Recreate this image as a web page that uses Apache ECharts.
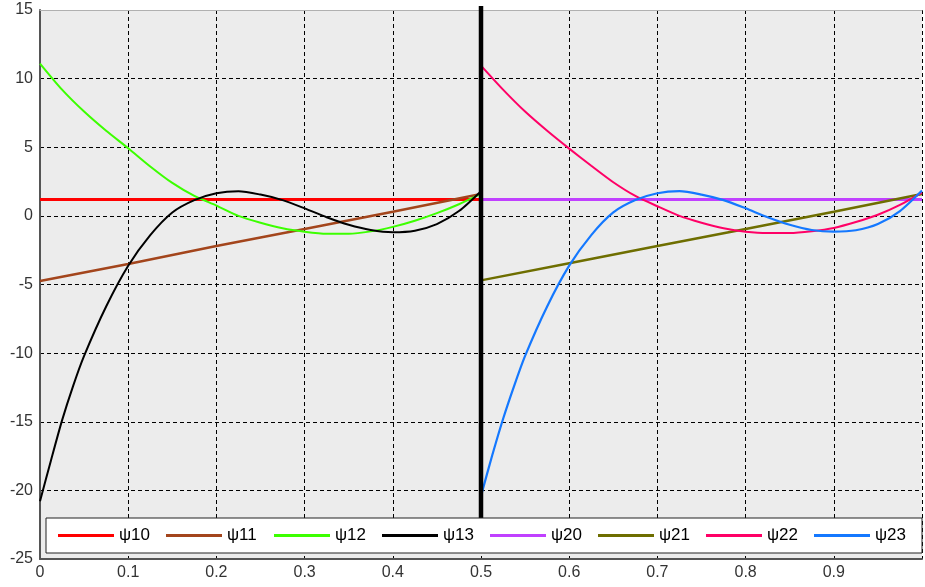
<!DOCTYPE html>
<html>
<head>
<meta charset="utf-8">
<script src="https://cdn.jsdelivr.net/npm/echarts@6/dist/echarts.min.js"></script>
<style>
html,body{margin:0;padding:0;background:#fff;}
#chart{width:925px;height:587px;}
</style>
</head>
<body>
<div id="chart"></div>
<script>
// ---- data ----
const seriesNames = ['ψ10','ψ11','ψ12','ψ13','ψ20','ψ21','ψ22','ψ23'];
const seriesColors = ['#ff0000','#a3451c','#3cff00','#000000','#c040ff','#6e6e00','#ff0066','#1478ff'];

const xTickLabels = ['0','0.1','0.2','0.3','0.4','0.5','0.6','0.7','0.8','0.9'];
const yTickLabels = ['-25','-20','-15','-10','-5','0','5','10','15'];

const psi10X = [0, 0.5];
const psi10Y = [1.2, 1.2];

const psi11X = [0, 0.1, 0.2, 0.3, 0.4, 0.5];
const psi11Y = [-4.75, -3.5, -2.2, -0.95, 0.3, 1.6];

const psi12X = [0,0.025,0.05,0.075,0.1,0.125,0.15,0.175,0.2,0.225,0.25,0.275,0.3,0.325,0.35,0.375,0.4,0.425,0.45,0.475,0.5];
const psi12Y = [11.1,9.2,7.6,6.2,4.93,3.6,2.4,1.45,0.75,0.0,-0.5,-0.9,-1.15,-1.3,-1.3,-1.13,-0.8,-0.35,0.2,0.85,1.6];

const psi13X = [0,0.0125,0.025,0.0375,0.05,0.075,0.1,0.125,0.15,0.175,0.2,0.225,0.25,0.275,0.3,0.325,0.35,0.375,0.4,0.425,0.45,0.475,0.5];
const psi13Y = [-20.8,-17.8,-14.9,-12.4,-10.2,-6.6,-3.63,-1.4,0.25,1.15,1.65,1.8,1.55,1.15,0.55,-0.1,-0.65,-1.03,-1.19,-1.08,-0.6,0.35,1.8];

const psi20X = [0.5, 1.0];
const psi20Y = [1.2, 1.2];

const psi21X = [0.5, 0.6, 0.7, 0.8, 0.9, 1.0];
const psi21Y = [-4.7, -3.45, -2.2, -0.95, 0.3, 1.6];

const psi22X = [0.5,0.525,0.55,0.575,0.6,0.625,0.65,0.675,0.7,0.725,0.75,0.775,0.8,0.825,0.85,0.875,0.9,0.925,0.95,0.975,1.0];
const psi22Y = [10.95,9.2,7.6,6.2,4.9,3.65,2.45,1.45,0.7,0.0,-0.5,-0.9,-1.15,-1.25,-1.25,-1.12,-0.88,-0.45,0.08,0.8,1.7];

const psi23X = [0.5,0.5125,0.525,0.5375,0.55,0.575,0.6,0.625,0.65,0.675,0.7,0.725,0.75,0.775,0.8,0.825,0.85,0.875,0.9,0.925,0.95,0.975,1.0];
const psi23Y = [-20.4,-17.5,-14.8,-12.4,-10.2,-6.6,-3.63,-1.4,0.25,1.15,1.65,1.8,1.55,1.15,0.55,-0.1,-0.65,-1.03,-1.15,-1.05,-0.6,0.35,1.85];

const dividerX = [0.5, 0.5];
const dividerY = [-22.1, 15.3];

// ---- build ----
function pairs(xs, ys){ return xs.map((x,i)=>[x, ys[i]]); }
const allX = [psi10X,psi11X,psi12X,psi13X,psi20X,psi21X,psi22X,psi23X];
const allY = [psi10Y,psi11Y,psi12Y,psi13Y,psi20Y,psi21Y,psi22Y,psi23Y];
const widths = [3, 2.5, 2, 2, 3, 2.5, 2, 2.2];

const series = seriesNames.map((name,i)=>({
  name: name,
  type: 'line',
  data: pairs(allX[i], allY[i]),
  symbol: 'none',
  smooth: allX[i].length > 6 ? 0.25 : false,
  lineStyle: { color: seriesColors[i], width: widths[i] },
  itemStyle: { color: seriesColors[i] },
  animation: false,
  z: 2
}));
series.push({
  name: 'divider',
  type: 'line',
  data: pairs(dividerX, dividerY),
  symbol: 'none',
  clip: false,
  lineStyle: { color: '#000', width: 4.5, cap: 'butt' },
  animation: false,
  z: 3
});

const chart = echarts.init(document.getElementById('chart'), null, {renderer: 'canvas'});
chart.setOption({
  animation: false,
  backgroundColor: '#ffffff',
  grid: { left: 40, right: -2, top: 10, bottom: 28, show: true, backgroundColor: '#ececec', borderWidth: 0, containLabel: false },
  xAxis: [{
    type: 'value', min: 0, max: 1, interval: 0.1,
    axisLine: { show: true, onZero: false, lineStyle: { color: '#555', width: 2 } },
    axisTick: { show: false },
    axisLabel: {
      color: '#333', fontSize: 16, fontFamily: 'Liberation Sans, Arial, sans-serif', margin: 6,
      showMinLabel: true, showMaxLabel: true,
      formatter: function(v){ const i = Math.round(v*10); return i < xTickLabels.length ? xTickLabels[i] : ''; }
    },
    splitLine: { show: true, lineStyle: { color: '#000', width: 1, type: [4,3] } }
  },{
    type: 'value', min: 0, max: 1, position: 'top',
    axisLine: { show: true, onZero: false, lineStyle: { color: '#b0b0b0', width: 1 } },
    axisTick: { show: false }, axisLabel: { show: false }, splitLine: { show: false }
  }],
  yAxis: {
    type: 'value', min: -25, max: 15, interval: 5,
    axisLine: { show: true, onZero: false, lineStyle: { color: '#555', width: 2 } },
    axisTick: { show: false },
    axisLabel: {
      color: '#333', fontSize: 16, fontFamily: 'Liberation Sans, Arial, sans-serif', margin: 7,
      showMinLabel: true, showMaxLabel: true,
      formatter: function(v){ const i = Math.round((v + 25)/5); return yTickLabels[i] || ''; }
    },
    splitLine: { show: true, lineStyle: { color: '#000', width: 1, type: [4,3] } }
  },
  legend: {
    data: seriesNames,
    left: 46, top: 518,
    z: 20,
    orient: 'horizontal',
    icon: 'rect',
    itemWidth: 56, itemHeight: 3,
    itemGap: 14,
    padding: [9, 14, 9, 12],
    backgroundColor: '#ffffff',
    borderColor: '#222',
    borderWidth: 1,
    borderRadius: 0,
    selectedMode: false,
    textStyle: { color: '#000', fontSize: 17, fontFamily: 'Liberation Sans, Arial, sans-serif', width: 33, lineHeight: 17 }
  },
  series: series
});
</script>
</body>
</html>
